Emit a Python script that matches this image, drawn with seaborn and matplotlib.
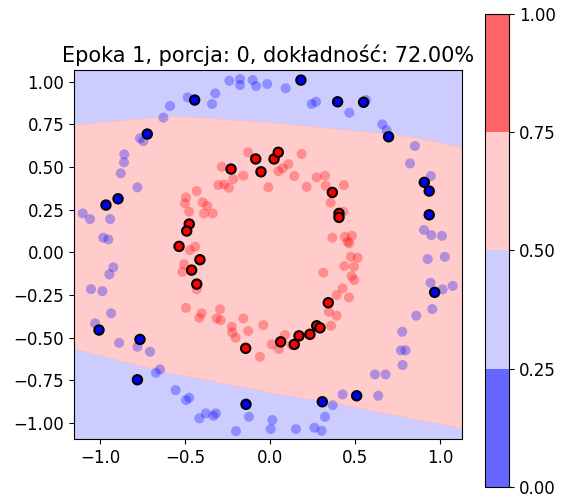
import numpy as np
import pandas as pd
import seaborn as sns
import matplotlib
matplotlib.use("Agg")
import matplotlib.pyplot as plt

plt.rcParams['font.size'] = 12

# --- punkty zbioru (tlo, polprzezroczyste) ---
outer_x = [-0.239, -0.176, -0.176, -0.102, -0.082, -0.484, -0.322, -0.341, -0.588, -0.627,
           -0.765, -0.745, -0.857, -0.859, -0.878, -0.780, -1.102, -1.059, -0.941, -0.981,
           -0.951, -0.016, 0.092, 0.245, 0.271, 0.467, 0.565, 0.661, 0.686, 0.853,
           0.824, 0.947, 0.906, 0.949, 1.012, -0.922, -0.945, -1.053, -0.986, -0.935,
           -1.029, -0.888, -0.780, -0.706, -0.647, -0.671, -0.555, -0.494, -0.475, -0.378,
           -0.416, -0.333, -0.318, -0.124, -0.200, 0.928, 1.029, 0.945, 1.075, 1.016,
           0.955, 0.861, 0.778, 0.771, 0.798, 0.780, 0.618, 0.680, 0.637, 0.427,
           0.369, 0.324, 0.014, 0.004, 0.153, 0.261, 0.304]
outer_y = [1.005, 1.015, 0.980, 1.009, 0.974, 0.908, 0.931, 0.869, 0.857, 0.789,
           0.668, 0.652, 0.574, 0.527, 0.463, 0.381, 0.228, 0.195, 0.195, 0.086,
           0.076, 0.986, 0.961, 0.869, 0.882, 0.818, 0.892, 0.750, 0.716, 0.623,
           0.521, 0.447, 0.131, 0.101, 0.097, -0.088, -0.129, -0.215, -0.227, -0.357,
           -0.416, -0.530, -0.553, -0.582, -0.685, -0.705, -0.807, -0.865, -0.852, -0.943,
           -0.972, -0.957, -0.943, -0.963, -1.047, -0.039, -0.026, -0.178, -0.196, -0.217,
           -0.332, -0.371, -0.465, -0.574, -0.574, -0.660, -0.715, -0.715, -0.840, -0.832,
           -0.895, -0.963, -0.982, -1.035, -1.035, -1.027, -1.045]

inner_x = [-0.128, -0.284, -0.216, -0.157, -0.304, -0.269, -0.241, -0.431, -0.494, -0.500,
           -0.396, -0.369, -0.476, -0.388, -0.337, -0.441, -0.471, 0.186, 0.108, 0.075,
           0.049, 0.143, -0.010, 0.216, 0.275, 0.324, 0.328, 0.435, 0.357, 0.431,
           0.367, 0.441, 0.482, 0.457, 0.467, -0.506, -0.516, -0.431, -0.494, -0.416,
           -0.402, -0.294, -0.314, -0.290, -0.225, -0.222, -0.202, -0.157, -0.128, 0.476,
           0.516, 0.437, 0.494, 0.480, 0.496, 0.314, 0.427, 0.392, 0.465, 0.347,
           0.392, 0.359, 0.300, -0.039, 0.088, 0.010, 0.053, 0.128, -0.059]
inner_y = [0.586, 0.501, 0.429, 0.449, 0.394, 0.398, 0.378, 0.359, 0.322, 0.287,
           0.293, 0.273, 0.238, 0.228, 0.228, 0.033, 0.013, 0.576, 0.517, 0.492,
           0.476, 0.447, 0.381, 0.384, 0.439, 0.449, 0.390, 0.394, 0.291, 0.238,
           0.086, 0.091, 0.097, 0.062, 0.053, -0.069, -0.114, -0.217, -0.325, -0.383,
           -0.357, -0.334, -0.387, -0.397, -0.436, -0.469, -0.500, -0.387, -0.461, -0.026,
           -0.032, -0.080, -0.084, -0.139, -0.162, -0.119, -0.211, -0.250, -0.264, -0.348,
           -0.371, -0.430, -0.442, -0.426, -0.484, -0.539, -0.566, -0.543, -0.611]

# --- biezaca porcja (wyroznione punkty) ---
batch0_x = [-0.443, -0.722, -0.894, -0.965, 0.182, 0.398, 0.551, 0.698, 0.908, 0.937,
            0.937, -1.006, -0.765, -0.780, -0.141, 0.969, 0.510, 0.308]
batch0_y = [0.892, 0.693, 0.314, 0.277, 1.009, 0.882, 0.879, 0.677, 0.410, 0.359,
            0.220, -0.455, -0.510, -0.746, -0.890, -0.234, -0.840, -0.875]
batch1_x = [-0.229, -0.084, -0.053, -0.475, -0.490, -0.535, 0.024, 0.049, 0.367, 0.406,
            0.406, -0.412, -0.461, -0.431, -0.143, 0.343, 0.275, 0.294, 0.235, 0.171,
            0.143, 0.063]
batch1_y = [0.488, 0.547, 0.472, 0.166, 0.125, 0.035, 0.547, 0.586, 0.351, 0.228,
            0.205, -0.043, -0.104, -0.186, -0.562, -0.295, -0.430, -0.442, -0.480, -0.489,
            -0.539, -0.524]

# --- granica decyzyjna (kontur 0.5) ---
upper_bx = [-1.153, -0.57, 0.0, 0.70, 0.88, 1.128]
upper_by = [0.746, 0.798, 0.760, 0.693, 0.668, 0.615]
lower_bx = [-1.153, -0.647, 0.0, 0.33, 0.725, 1.128]
lower_by = [-0.566, -0.695, -0.822, -0.875, -0.953, -1.031]

levels = [0.0, 0.25, 0.5, 0.75, 1.0]
x_min, x_max = -1.153, 1.128
y_min, y_max = -1.095, 1.068

xx, yy = np.meshgrid(np.linspace(x_min, x_max, 400), np.linspace(y_min, y_max, 400))
yu = np.interp(xx, upper_bx, upper_by)
yl = np.interp(xx, lower_bx, lower_by)
prob = 0.5 + 0.2 * np.tanh(3 * np.minimum(yu - yy, yy - yl))

tlo = pd.DataFrame({
    'x': outer_x + inner_x,
    'y': outer_y + inner_y,
    'klasa': [0] * len(outer_x) + [1] * len(inner_x),
})
porcja = pd.DataFrame({
    'x': batch0_x + batch1_x,
    'y': batch0_y + batch1_y,
    'klasa': [0] * len(batch0_x) + [1] * len(batch1_x),
})
paleta = {0: '#0000ff', 1: '#ff0000'}

fig = plt.figure(figsize=(5.62, 5.03), dpi=100)
ax = fig.add_axes([0.1317, 0.1266, 0.6898, 0.7342])
cax = fig.add_axes([0.8635, 0.0324, 0.0427, 0.9398])

cf = ax.contourf(xx, yy, prob, levels=levels, cmap='bwr', alpha=0.8)
sns.scatterplot(data=tlo, x='x', y='y', hue='klasa', palette=paleta, alpha=0.3,
                s=52, linewidth=0, legend=False, ax=ax)
sns.scatterplot(data=porcja, x='x', y='y', hue='klasa', palette=paleta,
                s=45, edgecolor='black', linewidth=1.5, legend=False, ax=ax)

ax.set_xlim(x_min, x_max)
ax.set_ylim(y_min, y_max)
ax.set_xticks([-1.0, -0.5, 0.0, 0.5, 1.0])
ax.set_yticks([-1.0, -0.75, -0.5, -0.25, 0.0, 0.25, 0.5, 0.75, 1.0])
ax.set_xlabel('')
ax.set_ylabel('')
ax.set_title('Epoka 1, porcja: 0, dokładność: 72.00%', fontsize=15)

fig.colorbar(cf, cax=cax)

fig.savefig('out.png', dpi=100)
